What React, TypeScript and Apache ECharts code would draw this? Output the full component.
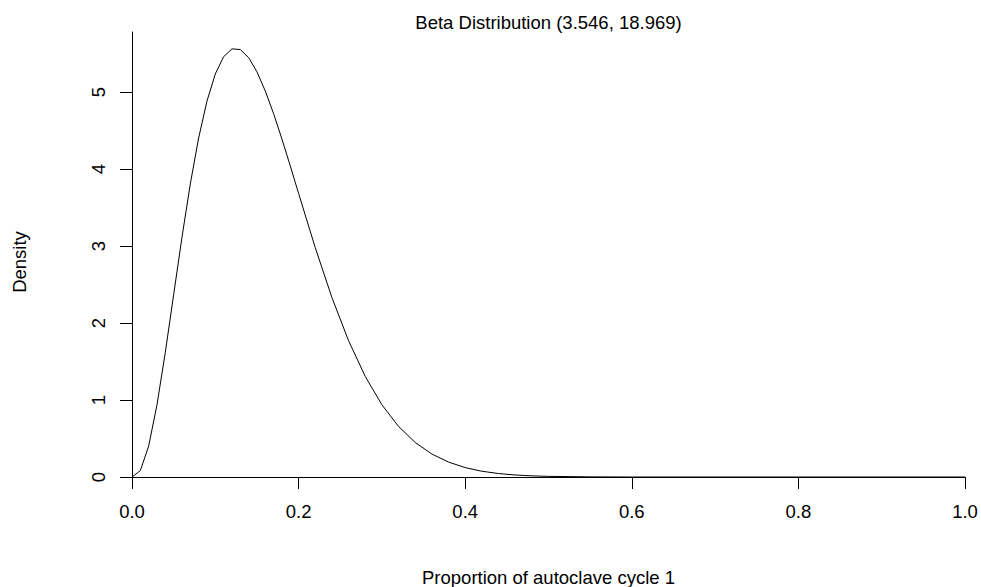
import React, { useEffect, useRef } from "react";
import * as echarts from "echarts";

// Beta(3.546, 18.969) density, sampled along the proportion axis
const proportion = [
  0.0, 0.01, 0.02, 0.03, 0.04, 0.05, 0.06, 0.07, 0.08, 0.09, 0.1, 0.11, 0.12,
  0.13, 0.14, 0.15, 0.16, 0.17, 0.18, 0.19, 0.2, 0.22, 0.24, 0.26, 0.28, 0.3,
  0.32, 0.34, 0.36, 0.38, 0.4, 0.42, 0.44, 0.46, 0.48, 0.5, 0.55, 0.6, 0.7, 0.8,
  0.9, 1.0,
];
const density = [
  0.0, 0.083, 0.402, 0.938, 1.62, 2.368, 3.115, 3.806, 4.403, 4.883, 5.235,
  5.459, 5.561, 5.552, 5.448, 5.263, 5.014, 4.718, 4.389, 4.041, 3.683, 2.979,
  2.331, 1.77, 1.306, 0.938, 0.657, 0.448, 0.298, 0.194, 0.122, 0.075, 0.045,
  0.026, 0.015, 0.008, 0.002, 0.0, 0.0, 0.0, 0.0, 0.0,
];
const yTicks = [0, 1, 2, 3, 4, 5];

const titleText = "Beta Distribution (3.546, 18.969)";
const xName = "Proportion of autoclave cycle 1";
const yName = "Density";

const FONT = "'Liberation Sans', Arial, sans-serif";
const FS = 18.5;

export default function App() {
  const ref = useRef<HTMLDivElement>(null);

  useEffect(() => {
    if (!ref.current) return;
    const chart = echarts.init(ref.current, null, { renderer: "svg" });
    const points = proportion.map((x, i) => [x, density[i]]);
    chart.setOption({
      animation: false,
      backgroundColor: "#ffffff",
      grid: { left: 132, right: 16, top: 32, bottom: 110 },
      graphic: [
        {
          type: "text",
          x: 548.5,
          y: 22,
          style: {
            text: titleText,
            font: `${FS}px ${FONT}`,
            fill: "#000",
            align: "center",
            verticalAlign: "middle",
          },
        },
        {
          type: "text",
          x: 548.5,
          y: 577,
          style: {
            text: xName,
            font: `${FS}px ${FONT}`,
            fill: "#000",
            align: "center",
            verticalAlign: "middle",
          },
        },
        {
          type: "text",
          x: 19,
          y: 262,
          rotation: Math.PI / 2,
          style: {
            text: yName,
            font: `${FS}px ${FONT}`,
            fill: "#000",
            align: "center",
            verticalAlign: "middle",
          },
        },
      ],
      xAxis: {
        type: "value",
        min: 0,
        max: 1,
        interval: 0.2,
        axisLine: { show: true, lineStyle: { color: "#000", width: 1 } },
        axisTick: { show: true, length: 12, lineStyle: { color: "#000", width: 1 } },
        axisLabel: {
          margin: 25,
          color: "#000",
          fontSize: FS,
          fontFamily: FONT,
          formatter: (v: number) => v.toFixed(1),
        },
        splitLine: { show: false },
      },
      yAxis: {
        type: "value",
        min: 0,
        max: 5.78,
        axisLine: { show: true, lineStyle: { color: "#000", width: 1 } },
        axisTick: {
          show: true,
          length: 12,
          customValues: yTicks,
          lineStyle: { color: "#000", width: 1 },
        },
        axisLabel: {
          margin: 24,
          rotate: 90,
          color: "#000",
          fontSize: FS,
          fontFamily: FONT,
          customValues: yTicks,
          formatter: (v: number) => String(v),
        },
        splitLine: { show: false },
      },
      series: [
        {
          type: "line",
          data: points,
          showSymbol: false,
          symbol: "none",
          lineStyle: { color: "#000", width: 1 },
          smooth: false,
        },
      ],
    });
    return () => chart.dispose();
  }, []);

  return (
    <div
      ref={ref}
      style={{ position: "fixed", left: 0, top: 0, width: 981, height: 587 }}
    />
  );
}
